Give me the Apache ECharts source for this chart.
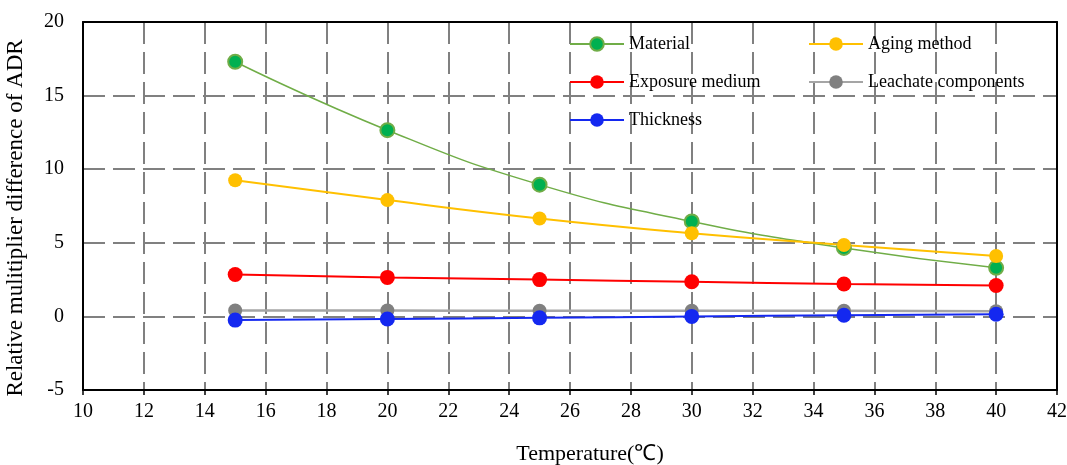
<!DOCTYPE html>
<html>
<head>
<meta charset="utf-8">
<script src="https://cdn.jsdelivr.net/npm/echarts@6/dist/echarts.min.js"></script>
<style>
  html, body { margin: 0; padding: 0; background: #fff; }
  #chart { width: 1067px; height: 465px; }
</style>
</head>
<body>
<div id="chart"></div>
<script>
// temperature points
var temps = [15, 20, 25, 30, 35, 40];

var material = [17.3, 12.65, 8.95, 6.45, 4.65, 3.3];
var agingMethod = [9.25, 7.9, 6.65, 5.65, 4.85, 4.1];
var exposureMedium = [2.85, 2.65, 2.5, 2.35, 2.2, 2.1];
var leachate = [0.4, 0.4, 0.38, 0.38, 0.38, 0.35];
var thickness = [-0.25, -0.18, -0.1, 0.0, 0.08, 0.15];

var pairs = function (vals) {
  return temps.map(function (t, i) { return [t, vals[i]]; });
};

var font = '"Liberation Serif", "Times New Roman", serif';

var gridLine = {
  show: true,
  lineStyle: { color: '#808080', width: 2, type: [22, 8] }
};

var legendText = { fontFamily: font, fontSize: 18, color: '#000' };

var chart = echarts.init(document.getElementById('chart'));

var option = {
  animation: false,
  textStyle: { fontFamily: font },
  grid: { left: 83, right: 10, top: 22, bottom: 75, outerBoundsMode: 'none', containLabel: false },
  legend: [
    {
      data: ['Material', 'Exposure medium', 'Thickness'],
      orient: 'vertical',
      left: 564, top: 30,
      itemGap: 20,
      itemWidth: 54, itemHeight: 17,
      textStyle: legendText
    },
    {
      data: ['Aging method', 'Leachate components'],
      orient: 'vertical',
      left: 803, top: 30,
      itemGap: 20,
      itemWidth: 54, itemHeight: 17,
      textStyle: legendText
    }
  ],
  xAxis: [
    {
      type: 'value',
      min: 10, max: 42, interval: 2,
      name: 'Temperature(℃)',
      nameLocation: 'middle',
      nameGap: 53,
      nameTextStyle: { fontFamily: font, fontSize: 22, color: '#000', padding: [0, 0, 0, 40] },
      axisLine: { onZero: false, lineStyle: { color: '#000', width: 2 } },
      axisTick: { show: true, length: 5, lineStyle: { color: '#000', width: 1.5 } },
      axisLabel: { fontFamily: font, fontSize: 20, color: '#000', margin: 12 },
      splitLine: gridLine
    },
    {
      // top border
      type: 'value', position: 'top',
      min: 10, max: 42, interval: 2,
      axisLine: { show: true, onZero: false, lineStyle: { color: '#000', width: 2 } },
      axisTick: { show: false }, axisLabel: { show: false }, splitLine: { show: false }
    }
  ],
  yAxis: [
    {
      type: 'value',
      min: -5, max: 20, interval: 5,
      name: 'Relative mulitiplier difference of ADR',
      nameLocation: 'middle',
      nameGap: 56,
      nameTextStyle: { fontFamily: font, fontSize: 23, color: '#000', padding: [0, 24, 0, 0] },
      axisLine: { show: true, lineStyle: { color: '#000', width: 2 } },
      axisTick: { show: false },
      axisLabel: { fontFamily: font, fontSize: 20, color: '#000', margin: 19 },
      splitLine: gridLine
    },
    {
      // right border
      type: 'value', position: 'right',
      min: -5, max: 20, interval: 5,
      axisLine: { show: true, onZero: false, lineStyle: { color: '#000', width: 2 } },
      axisTick: { show: false }, axisLabel: { show: false }, splitLine: { show: false }
    }
  ],
  series: [
    {
      name: 'Material', type: 'line', smooth: true,
      data: pairs(material),
      symbol: 'circle', symbolSize: 14,
      itemStyle: { color: '#00B050', borderColor: '#70AD47', borderWidth: 2 },
      lineStyle: { color: '#70AD47', width: 1.5 }
    },
    {
      name: 'Aging method', type: 'line', smooth: true,
      data: pairs(agingMethod),
      symbol: 'circle', symbolSize: 14,
      itemStyle: { color: '#FFC000' },
      lineStyle: { color: '#FFC000', width: 2 }
    },
    {
      name: 'Exposure medium', type: 'line', smooth: true,
      data: pairs(exposureMedium),
      symbol: 'circle', symbolSize: 15,
      itemStyle: { color: '#FF0000' },
      lineStyle: { color: '#FF0000', width: 2 }
    },
    {
      name: 'Leachate components', type: 'line', smooth: true,
      data: pairs(leachate),
      symbol: 'circle', symbolSize: 14,
      itemStyle: { color: '#808080' },
      lineStyle: { color: '#A5A5A5', width: 2.5 }
    },
    {
      name: 'Thickness', type: 'line', smooth: true,
      data: pairs(thickness),
      symbol: 'circle', symbolSize: 15,
      itemStyle: { color: '#1428F0' },
      lineStyle: { color: '#1428F0', width: 2 }
    }
  ]
};

chart.setOption(option);
</script>
</body>
</html>
